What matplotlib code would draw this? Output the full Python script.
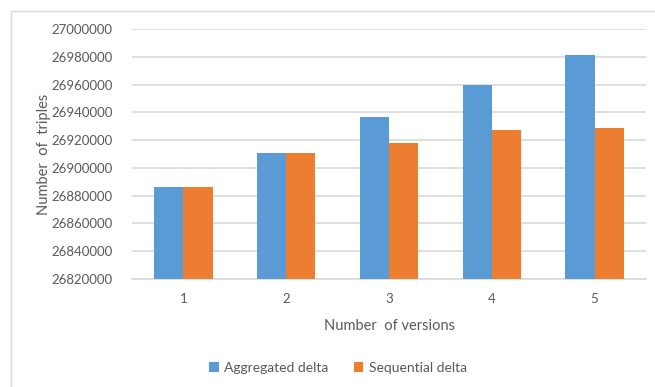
import matplotlib
matplotlib.use("Agg")
import matplotlib.pyplot as plt
from matplotlib.patches import Rectangle
import numpy as np

plt.rcParams['font.family'] = ['Lato', 'DejaVu Sans']

versions = ['1', '2', '3', '4', '5']
aggregated = [26886000, 26911000, 26936500, 26960000, 26981000]
sequential = [26886000, 26911000, 26918000, 26927500, 26928500]
yticks = list(range(26820000, 27000001, 20000))

blue = '#5B9BD5'
orange = '#ED7D31'
grey_txt = '#595959'

fig = plt.figure(figsize=(6.55, 3.87), dpi=100)
# light frame around the chart area
fig.patches.append(Rectangle((10.5/655, -0.1), 1.2, 1 - 10.5/387 + 0.1, transform=fig.transFigure,
                             fill=False, edgecolor='#D9D9D9', linewidth=1))
ax = fig.add_axes([132/655, 1 - 279/387, 514/655, 250/387])

x = np.arange(1, len(versions) + 1)
w = 0.285
ax.bar(x - w/2, np.array(aggregated) - yticks[0], w, bottom=yticks[0], color=blue, label='Aggregated delta', zorder=3)
ax.bar(x + w/2, np.array(sequential) - yticks[0], w, bottom=yticks[0], color=orange, label='Sequential delta', zorder=3)

ax.set_xlim(0.5, 5.5)
ax.set_ylim(yticks[0], yticks[-1])
ax.set_yticks(yticks)
ax.set_yticklabels([str(t) for t in yticks])
ax.set_xticks(x)
ax.set_xticklabels(versions)
ax.yaxis.grid(True, color='#D9D9D9', linewidth=1.2, zorder=0)
for s in ax.spines.values():
    s.set_visible(False)
ax.spines['bottom'].set_visible(True)
ax.spines['bottom'].set_color('#D9D9D9')
ax.spines['bottom'].set_linewidth(1.2)
ax.tick_params(length=0, labelsize=9.5, colors=grey_txt)
ax.tick_params(axis='y', pad=14)
ax.tick_params(axis='x', pad=10)

ax.set_xlabel('Number  of versions', fontsize=10.5, color=grey_txt, labelpad=10)
ax.set_ylabel('Number  of  triples', fontsize=10.5, color=grey_txt, va='center')
ax.yaxis.set_label_coords(-0.171, 0.5)

ax.legend(loc='center', bbox_to_anchor=(338/655, 1 - 368/387), bbox_transform=fig.transFigure,
          ncol=2, frameon=False, fontsize=10, labelcolor=grey_txt,
          handlelength=0.7, handleheight=0.7, handletextpad=0.4, columnspacing=1.8)

fig.savefig('out.png', dpi=100)
